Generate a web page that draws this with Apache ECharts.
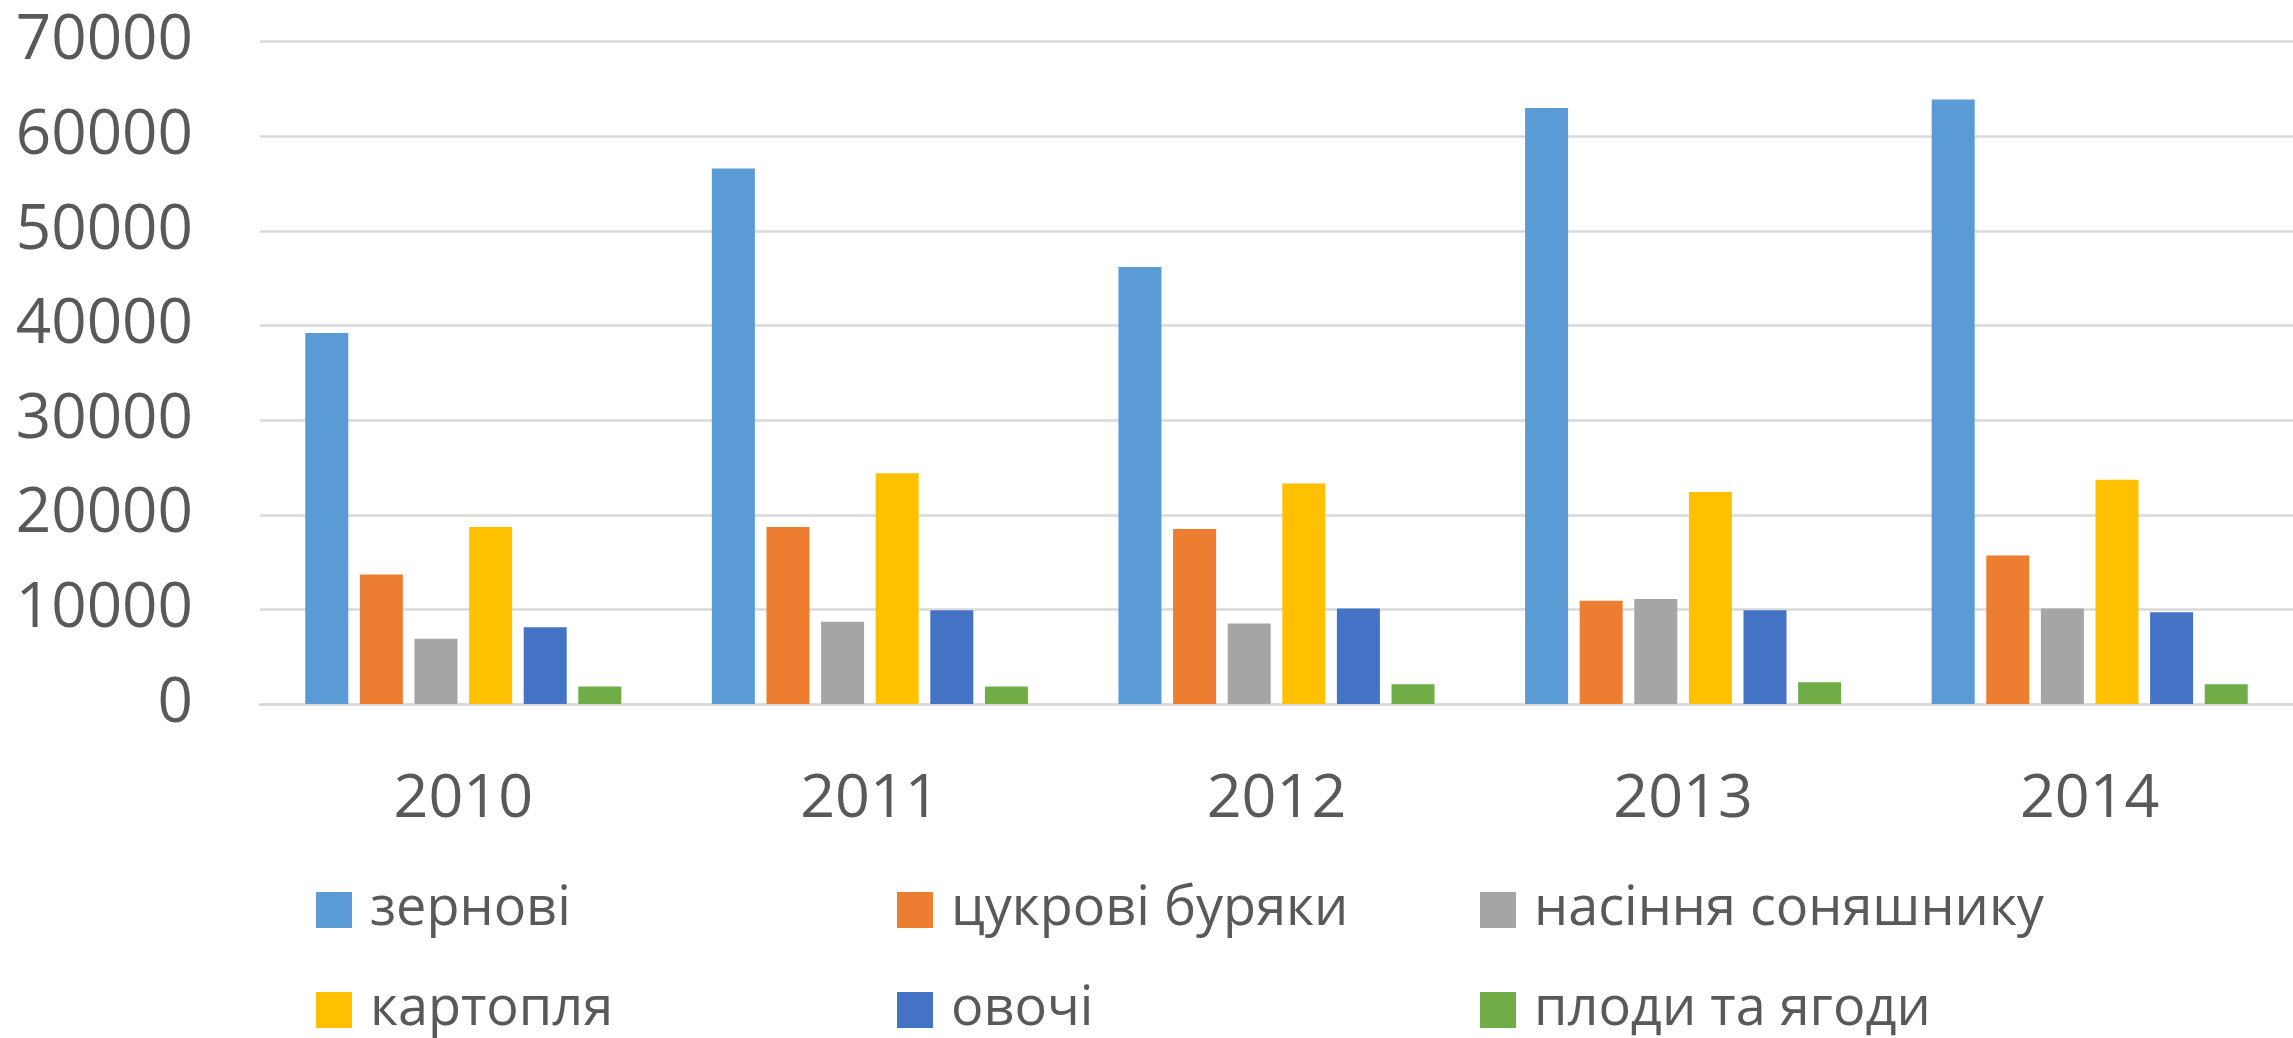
<!DOCTYPE html>
<html>
<head>
<meta charset="utf-8">
<script src="https://cdn.jsdelivr.net/npm/echarts@6/dist/echarts.min.js"></script>
<style>
html,body{margin:0;padding:0;background:#fff;}
#chart{width:2293px;height:1038px;}
</style>
</head>
<body>
<div id="chart"></div>
<script>
const categories = ['2010','2011','2012','2013','2014'];
const seriesNames = ['зернові','цукрові буряки','насіння соняшнику','картопля','овочі','плоди та ягоди'];
const grain      = [39200, 56600, 46200, 63000, 63900];
const sugarBeet  = [13700, 18700, 18500, 10900, 15700];
const sunflower  = [6900, 8700, 8500, 11100, 10100];
const potato     = [18700, 24400, 23300, 22400, 23700];
const vegetables = [8100, 9900, 10100, 9900, 9700];
const fruits     = [1850, 1850, 2100, 2300, 2100];
const yTicks = [0, 10000, 20000, 30000, 40000, 50000, 60000, 70000];

const seriesData = [grain, sugarBeet, sunflower, potato, vegetables, fruits];
const colors = ['#5B9BD5','#ED7D31','#A5A5A5','#FFC000','#4472C4','#70AD47'];
const FONT = '"Open Sans", sans-serif';
const TXT = '#595959';

const legendPos = [
  {left: 316, top: 869}, {left: 897, top: 869}, {left: 1480, top: 869},
  {left: 316, top: 969}, {left: 897, top: 969}, {left: 1480, top: 969}
];

const chart = echarts.init(document.getElementById('chart'), null, {renderer: 'canvas'});
chart.setOption({
  animation: false,
  color: colors,
  grid: {left: 260, right: -10, top: 41.7, bottom: 1038 - 704, containLabel: false},
  xAxis: {
    type: 'category',
    data: categories,
    axisTick: {show: false},
    axisLine: {lineStyle: {color: '#D9D9D9', width: 2.5}},
    axisLabel: {color: TXT, fontSize: 61, fontFamily: FONT, margin: 65}
  },
  yAxis: {
    type: 'value',
    min: yTicks[0],
    max: yTicks[yTicks.length - 1],
    interval: 10000,
    axisLine: {show: false},
    axisTick: {show: false},
    splitLine: {lineStyle: {color: '#D9D9D9', width: 2.5}},
    axisLabel: {color: TXT, fontSize: 62, fontFamily: FONT, margin: 67, formatter: v => String(v)}
  },
  legend: seriesNames.map((n, i) => ({
    data: [n],
    left: legendPos[i].left,
    top: legendPos[i].top,
    padding: 0,
    icon: 'rect',
    itemWidth: 36,
    itemHeight: 36,
    textStyle: {color: TXT, fontSize: 54, fontFamily: FONT, lineHeight: 60, padding: [22, 0, 0, 13]}
  })),
  series: seriesNames.map((n, i) => ({
    name: n,
    type: 'bar',
    data: seriesData[i],
    barWidth: 43,
    barGap: '27%',
    itemStyle: {color: colors[i]}
  }))
});
</script>
</body>
</html>
